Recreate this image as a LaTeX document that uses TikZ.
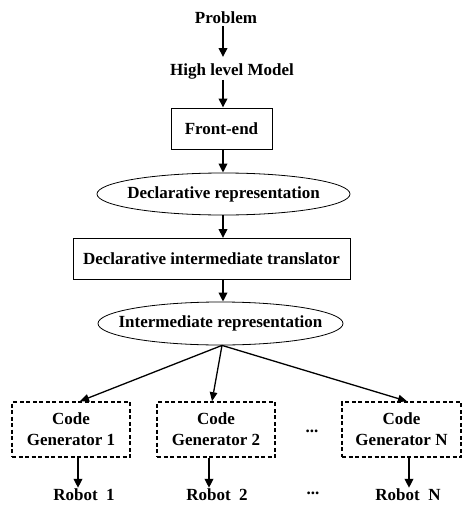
\documentclass[tikz,border=0pt]{standalone}
\usepackage{fontspec}
\setmainfont{Liberation Serif}
\usetikzlibrary{arrows.meta,shapes.geometric}
\begin{document}
\begin{tikzpicture}[x=1pt,y=-1pt,
  txt/.style={font=\fontsize{17}{19}\selectfont\bfseries, inner sep=1pt},
  box/.style={txt, draw, line width=1pt, minimum height=41pt, inner sep=0pt},
  ell/.style={draw, ellipse, line width=0.8pt, inner sep=0pt},
  gen/.style={txt, draw, line width=1.6pt, dash pattern=on 4pt off 2.5pt, minimum width=118pt, minimum height=55pt, align=center, inner sep=0pt, font=\fontsize{17}{21}\selectfont\bfseries},
  arr/.style={line width=2pt, -{Triangle[width=8.5pt,length=9pt]}},
  farr/.style={line width=1.3pt, -{Triangle[width=7.5pt,length=9pt]}}
]
\useasboundingbox (0,0) rectangle (462,506);
\node[txt] (prob) at (226,18) {Problem};
\node[txt] (hlm) at (232,71) {High level Model};
\node[box, minimum width=101pt] (fe) at (221.5,128.5) {Front-end};
\node[ell, minimum width=253pt, minimum height=42pt] (dr) at (223.5,194) {};
\node[txt] (drt) at (dr.center) {Declarative representation};
\node[box, minimum width=277pt] (dit) at (211.5,259) {Declarative intermediate translator};
\node[ell, minimum width=245pt, minimum height=43pt] (ir) at (220.5,323.5) {};
\node[txt] (irt) at (ir.center) {Intermediate representation};
\node[gen] (cg1) at (71,429.5) {Code\\Generator 1};
\node[gen] (cg2) at (216,429.5) {Code\\Generator 2};
\node[gen, minimum width=119pt] (cgN) at (401.5,429.5) {Code\\Generator N};
\node[txt] (d1) at (312,431) {...};
\node[txt] (r1) at (84,495) {Robot\ \ 1};
\node[txt] (r2) at (217,495) {Robot\ \ 2};
\node[txt] (d2) at (313,493) {...};
\node[txt] (rN) at (408,495) {Robot\ \ N};

\draw[arr] ([xshift=-3pt]prob.south) ++(0,1) -- (223,57);
\draw[arr] ([xshift=1.5pt]hlm.south -| fe.north) -- ([xshift=1.5pt]fe.north);
\draw[arr] ([xshift=1.5pt]fe.south) -- ([xshift=-0.5pt]dr.north);
\draw[arr] ([xshift=-0.5pt]dr.south) -- ([xshift=11.5pt]dit.north);
\draw[arr] ([xshift=11.5pt]dit.south) -- ([xshift=2.5pt]ir.north);
\draw[farr] ([xshift=1.5pt]ir.south) -- ([xshift=9pt]cg1.north);
\draw[farr] ([xshift=1.5pt]ir.south) -- ([xshift=-4pt]cg2.north);
\draw[farr] ([xshift=1.5pt]ir.south) -- ([xshift=5.5pt]cgN.north);
\draw[arr] ([xshift=7pt]cg1.south) -- ([xshift=-6pt]r1.north);
\draw[arr] ([xshift=-7pt]cg2.south) -- ([xshift=-8pt]r2.north);
\draw[arr] ([xshift=7.5pt]cgN.south) -- ([xshift=1pt]rN.north);
\end{tikzpicture}
\end{document}
